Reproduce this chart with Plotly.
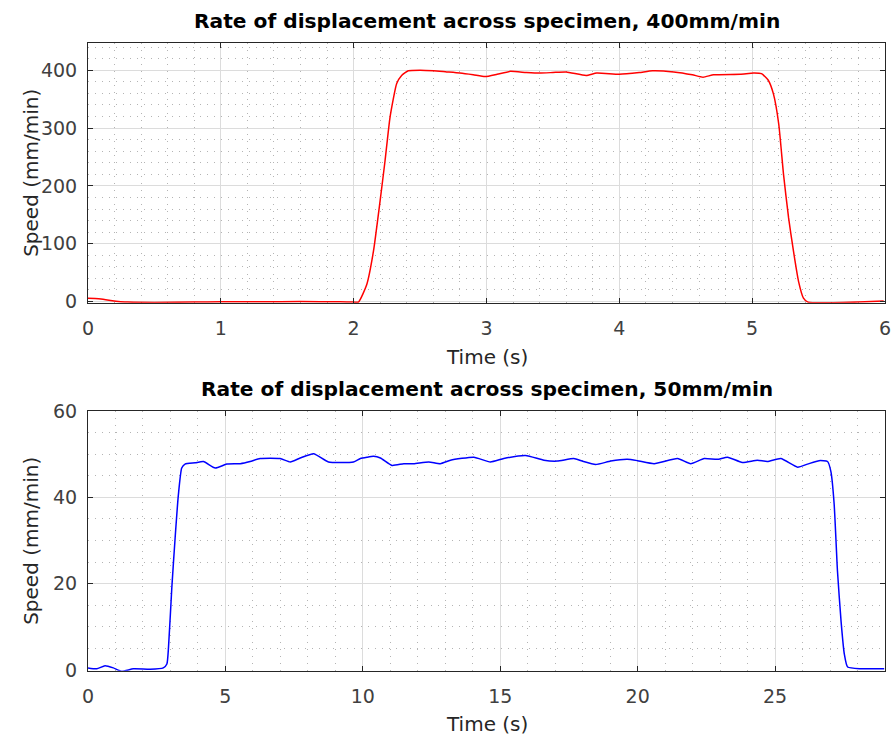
import plotly.graph_objects as go

# ---------------- data ----------------
t_fast = [0, 0.08, 0.17, 0.3, 0.5, 0.8, 1.0, 1.3, 1.6, 1.9, 2.0, 2.036, 2.098, 2.149, 2.199,
          2.236, 2.274, 2.324, 2.361, 2.411, 2.5, 2.6, 2.7, 2.8, 2.9, 2.99, 3.08, 3.18, 3.3,
          3.4, 3.5, 3.6, 3.75, 3.83, 4.0, 4.15, 4.25, 4.41, 4.55, 4.63, 4.71, 4.91, 5.01,
          5.07, 5.12, 5.16, 5.2, 5.236, 5.274, 5.311, 5.349, 5.386, 5.42, 5.61, 5.8, 5.99]
v_fast = [5.5, 5, 2, -1, -1.5, -1, -0.5, -0.5, 0, -0.5, -1, -1, 29, 87, 174,
          243, 319, 377, 391, 399, 400, 399, 397, 395, 392, 389, 393, 398, 396,
          395, 396, 397, 391, 395, 393, 396, 399, 397, 392, 388, 392, 393, 395,
          394, 383, 359, 307, 220, 145, 87, 35, 6, -1, -2, -1, 1]

t_slow = [0, 0.32, 0.62, 0.92, 1.23, 1.65, 2.26, 2.74, 2.87, 2.93, 3.05, 3.17, 3.29, 3.41,
          3.53, 3.9, 4.2, 4.63, 5.05, 5.54, 5.9, 6.26, 6.99, 7.36, 7.72, 8.21, 8.75, 9.66,
          9.91, 10.15, 10.39, 10.64, 11.06, 11.49, 11.85, 12.4, 12.82, 13.19, 14.04, 14.64,
          15.13, 15.92, 16.59, 17.07, 17.68, 17.98, 18.47, 19.02, 19.62, 19.99, 20.6, 21.45,
          21.93, 22.42, 22.9, 23.27, 23.81, 24.36, 24.72, 25.21, 25.82, 26.18, 26.6, 26.91,
          27.03, 27.15, 27.27, 27.4, 27.52, 27.64, 28.12, 28.97]
v_slow = [0.5, 0.3, 1.0, 0.5, -0.3, 0.3, 0.2, 0.5, 1.4, 5.3, 19.1, 30.6, 40.7, 46.8,
          47.7, 48.0, 48.3, 46.8, 47.7, 47.8, 48.3, 49.0, 49.0, 48.2, 49.1, 50.1, 48.2, 48.2,
          49.0, 49.3, 49.5, 49.1, 47.4, 47.8, 47.8, 48.2, 47.8, 48.6, 49.3, 48.2,
          49.0, 49.7, 48.6, 48.4, 49.0, 48.4, 47.6, 48.4, 48.8, 48.5, 47.8, 49.0,
          47.8, 49.0, 48.8, 49.3, 48.1, 48.6, 48.3, 49.0, 47.0, 47.7, 48.5, 48.3,
          46.0, 38.4, 23.0, 11.4, 3.7, 0.7, 0.3, 0.3]

title_fast = "Rate of displacement across specimen, 400mm/min"
title_slow = "Rate of displacement across specimen, 50mm/min"
x_label = "Time (s)"
y_label = "Speed (mm/min)"

# ---------------- figure ----------------
W, H = 893, 742
fig = go.Figure()
fig.add_trace(go.Scatter(x=t_fast, y=v_fast, mode="lines",
                         line=dict(color="#ff0000", width=1.5, shape="spline", smoothing=0.5),
                         xaxis="x", yaxis="y"))
fig.add_trace(go.Scatter(x=t_slow, y=v_slow, mode="lines",
                         line=dict(color="#0000ff", width=1.5, shape="spline", smoothing=0.5),
                         xaxis="x2", yaxis="y2"))

L, R = 88, 885
top1, bot1 = 43, 302.7
top2, bot2 = 411, 670.7


def px_x(p):
    return p / W


def px_y(p):
    return (H - p) / H


tick_font = dict(family="DejaVu Sans", size=19, color="#404040")
common = dict(showline=True, linecolor="#262626", linewidth=1, mirror="ticks",
              ticks="inside", ticklen=5, tickcolor="#262626", tickwidth=1,
              showgrid=True, gridcolor="#dcdcdc", gridwidth=1, zeroline=False,
              tickfont=tick_font, automargin=False, ticklabeloverflow="allow")

minor_style = dict(showgrid=True, gridcolor="#b4b4b4", gridwidth=1, griddash="1px,6px", ticks="")

fig.update_layout(
    width=W, height=H, margin=dict(l=0, r=0, t=0, b=0),
    paper_bgcolor="white", plot_bgcolor="white", showlegend=False,
    xaxis=dict(domain=[px_x(L), px_x(R)], range=[0, 6], dtick=1, tick0=0, anchor="y",
               minor=dict(dtick=0.2, **minor_style), ticklabelstandoff=8, **common),
    yaxis=dict(domain=[px_y(bot1), px_y(top1)], range=[-2, 447], dtick=100, tick0=0, anchor="x",
               minor=dict(dtick=20, **minor_style), ticklabelstandoff=6, **common),
    xaxis2=dict(domain=[px_x(L), px_x(R)], range=[0, 29], dtick=5, tick0=0, anchor="y2",
                minor=dict(dtick=1, **minor_style), ticklabelstandoff=8, **common),
    yaxis2=dict(domain=[px_y(bot2), px_y(top2)], range=[-0.15, 60], dtick=20, tick0=0, anchor="x2",
                minor=dict(dtick=5, **minor_style), ticklabelstandoff=6, **common),
)

cx = px_x((L + R) / 2)
title_font = dict(family="DejaVu Sans", size=20.2, color="#000000")
label_font = dict(family="DejaVu Sans", size=20, color="#262626")
ann = [
    dict(text="<b>%s</b>" % title_fast, x=cx, y=px_y(21), font=title_font),
    dict(text="<b>%s</b>" % title_slow, x=cx, y=px_y(389), font=title_font),
    dict(text=x_label, x=cx, y=px_y(357), font=label_font),
    dict(text=x_label, x=cx, y=px_y(724), font=label_font),
    dict(text=y_label, x=px_x(31), y=px_y((top1 + bot1) / 2), font=label_font, textangle=-90),
    dict(text=y_label, x=px_x(31), y=px_y((top2 + bot2) / 2), font=label_font, textangle=-90),
]
for a in ann:
    fig.add_annotation(xref="paper", yref="paper", xanchor="center", yanchor="middle",
                       showarrow=False, **a)

# Remove the browser's default 8px body margin so the figure sits at the page origin.
fig.write_html("out.html",
               config={"displayModeBar": False},
               post_script="document.body.style.margin='0px';document.body.style.overflow='hidden';")
